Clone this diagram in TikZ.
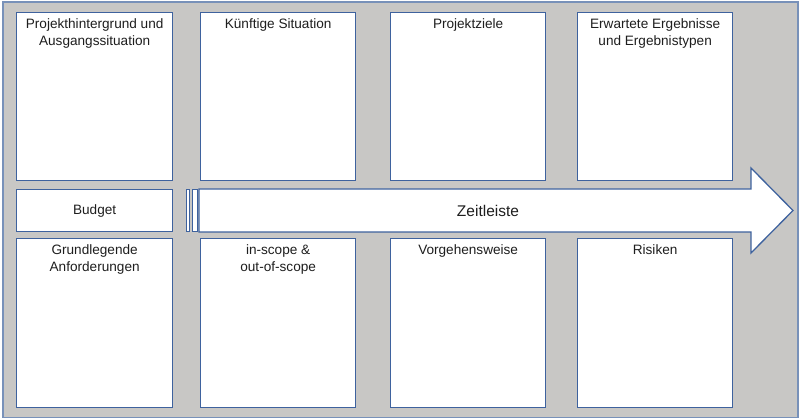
\documentclass[tikz,border=0pt]{standalone}
\usepackage{fontspec}
\setmainfont{Liberation Sans}
\definecolor{bggray}{RGB}{200,199,197}
\definecolor{boxblue}{RGB}{62,98,158}
\definecolor{frameblue}{RGB}{120,145,185}
\definecolor{txt}{RGB}{30,30,30}
\begin{document}
\begin{tikzpicture}[x=1pt,y=-1pt,
  card/.style={draw=boxblue,fill=white,line width=1.3pt,inner sep=0pt,anchor=north west},
  title/.style={anchor=north,inner sep=0pt,align=center,text=txt,font=\fontsize{13.6}{16.5}\selectfont},
  bigtitle/.style={inner sep=0pt,text=txt,font=\fontsize{15.5}{18}\selectfont}]
\useasboundingbox (0,0) rectangle (801,419);
\fill[bggray,draw=frameblue,line width=1.5pt] (3,2) rectangle (798,417.5);
% top row
\node[card,minimum width=156pt,minimum height=168pt] (b1) at (16,12) {};
\node[card,minimum width=155pt,minimum height=168pt] (b2) at (200,12) {};
\node[card,minimum width=155pt,minimum height=168pt] (b3) at (390,12) {};
\node[card,minimum width=155pt,minimum height=168pt] (b4) at (577,12) {};
% bottom row
\node[card,minimum width=156pt,minimum height=169pt] (c1) at (16,238) {};
\node[card,minimum width=155pt,minimum height=169pt] (c2) at (200,238) {};
\node[card,minimum width=155pt,minimum height=169pt] (c3) at (390,238) {};
\node[card,minimum width=155pt,minimum height=169pt] (c4) at (577,238) {};
% budget
\node[card,minimum width=156pt,minimum height=42pt] (bud) at (16,189) {};
\node[bigtitle,font=\fontsize{13.6}{16}\selectfont] at (bud.center) {Budget};
% thin bars
\node[card,minimum width=3pt,minimum height=42pt,line width=1.1pt] (bar1) at (186,189) {};
\node[card,minimum width=5pt,minimum height=42pt,line width=1.1pt] (bar2) at (191.5,189) {};
% arrow
\draw[boxblue,fill=white,line width=1.3pt,line join=miter]
  (199,189) -- (751,189) -- (751,168) -- (793,210.5) -- (751,253) -- (751,232) -- (199,232) -- cycle;
\coordinate (arr) at (488,210.5);
\node[bigtitle] (zl) at (arr) {Zeitleiste};
% titles
\node[title] (t1) at ([yshift=-6.5pt]b1.north) {Projekthintergrund und\\Ausgangssituation};
\node[title] (t2) at ([yshift=-6.5pt]b2.north) {Künftige Situation};
\node[title] (t3) at ([yshift=-6.5pt]b3.north) {Projektziele};
\node[title] (t4) at ([yshift=-6.5pt]b4.north) {Erwartete Ergebnisse\\und Ergebnistypen};
\node[title] (u1) at ([yshift=-6.5pt]c1.north) {Grundlegende\\Anforderungen};
\node[title] (u2) at ([yshift=-6.5pt]c2.north) {in-scope \&\\out-of-scope};
\node[title] (u3) at ([yshift=-6.5pt]c3.north) {Vorgehensweise};
\node[title] (u4) at ([yshift=-6.5pt]c4.north) {Risiken};
\end{tikzpicture}
\end{document}
